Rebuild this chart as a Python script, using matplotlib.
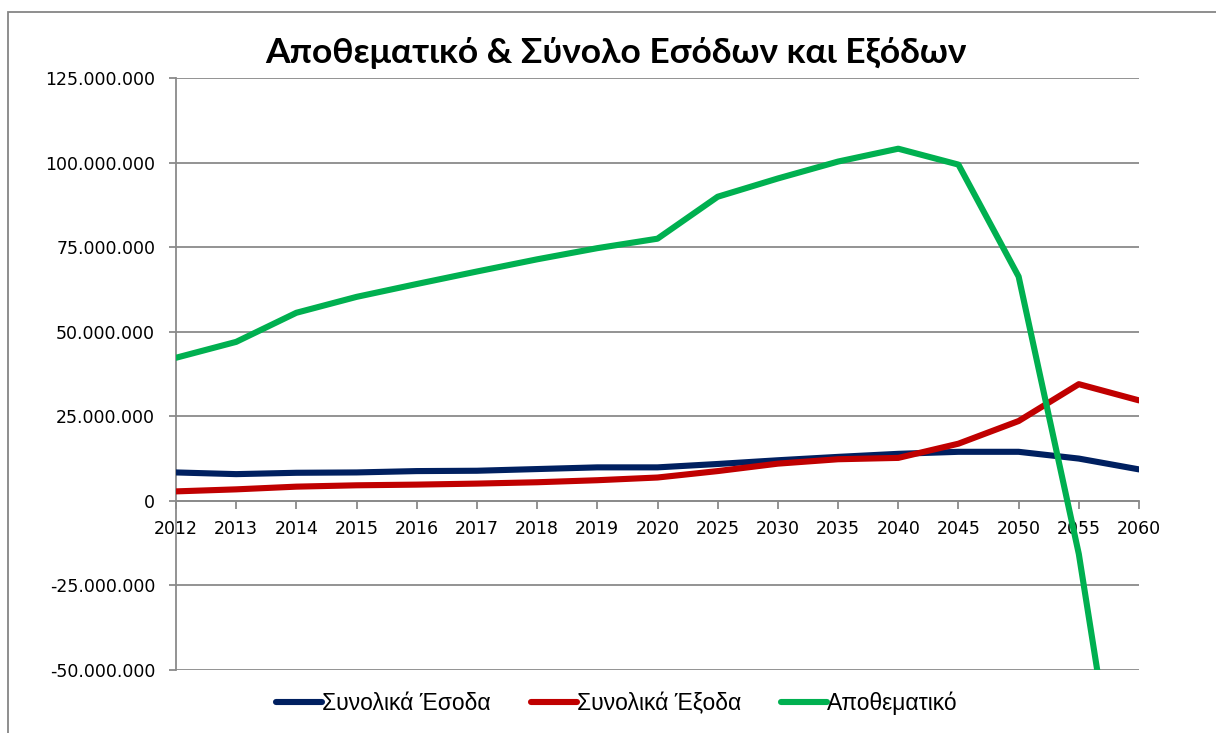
import matplotlib
matplotlib.use("Agg")
import matplotlib.pyplot as plt
from matplotlib.patches import Rectangle
from matplotlib.ticker import FuncFormatter, MultipleLocator

years = ["2012", "2013", "2014", "2015", "2016", "2017", "2018", "2019", "2020",
         "2025", "2030", "2035", "2040", "2045", "2050", "2055", "2060"]
esoda = [8.4, 7.9, 8.3, 8.4, 8.8, 8.9, 9.4, 9.9, 9.9,
         10.9, 12.0, 13.0, 13.9, 14.5, 14.5, 12.5, 9.3]
exoda = [2.8, 3.4, 4.2, 4.6, 4.8, 5.1, 5.5, 6.1, 6.9,
         8.8, 11.0, 12.3, 12.7, 16.9, 23.6, 34.5, 29.7]
apothematiko = [42.3, 47.0, 55.6, 60.3, 64.1, 67.8, 71.4, 74.7, 77.5,
                89.9, 95.3, 100.3, 104.1, 99.4, 66.3, -15.7, -128.0]
series_names = ["Συνολικά Έσοδα", "Συνολικά Έξοδα", "Αποθεματικό"]
title = "Αποθεματικό & Σύνολο Εσόδων και Εξόδων"

M = 1_000_000
colors = ["#002060", "#C00000", "#00B050"]
grid_c = "#8A8A8A"

fig = plt.figure(figsize=(12.16, 7.33), dpi=100)
ax = fig.add_axes([176/1216, 1-670/733, (1139-176)/1216, (670-78)/733])

x = list(range(len(years)))
for vals, c, name in zip([esoda, exoda, apothematiko], colors, series_names):
    ax.plot(x, [v*M for v in vals], color=c, lw=4.4, label=name,
            solid_capstyle="round", solid_joinstyle="round", zorder=3)

ax.set_xlim(0, len(years)-1)
ax.set_ylim(-50*M, 125*M)
ax.yaxis.set_major_locator(MultipleLocator(25*M))
ax.yaxis.set_major_formatter(FuncFormatter(lambda v, p: f"{v:,.0f}".replace(",", ".")))
ax.set_xticks(x)
ax.set_xticklabels(years)

ax.grid(axis="y", color=grid_c, lw=1.3, zorder=0)
for s in ["top", "right"]:
    ax.spines[s].set_visible(False)
ax.spines["left"].set_color(grid_c)
ax.spines["left"].set_linewidth(1.3)
ax.spines["bottom"].set_position(("data", 0))
ax.spines["bottom"].set_color(grid_c)
ax.spines["bottom"].set_linewidth(1.3)

ax.tick_params(axis="y", length=5, width=1.3, color=grid_c, pad=10, labelsize=12.5)
ax.tick_params(axis="x", length=6, width=1.3, color=grid_c, pad=8, labelsize=12.5,
               direction="out")
for lab in ax.get_xticklabels() + ax.get_yticklabels():
    lab.set_fontfamily(["DejaVu Sans"])

fig.text(616/1216, 1-53/733, title, ha="center", va="center",
         fontsize=25.5, fontweight="bold", family=["Lato", "DejaVu Sans"])

leg = fig.legend(loc="center", bbox_to_anchor=(617/1216, 1-703/733), ncol=3,
                 frameon=False, handlelength=2.0, handletextpad=0.0,
                 columnspacing=1.75,
                 prop={"family": ["Liberation Sans Narrow", "Liberation Sans", "DejaVu Sans"],
                       "size": 16.5})

fig.add_artist(Rectangle((8/1216, -0.1), 1.2, 1-12/733+0.1, transform=fig.transFigure,
                         fill=False, edgecolor="#868686", lw=1.3, clip_on=False))

fig.savefig("out.png", dpi=100)
